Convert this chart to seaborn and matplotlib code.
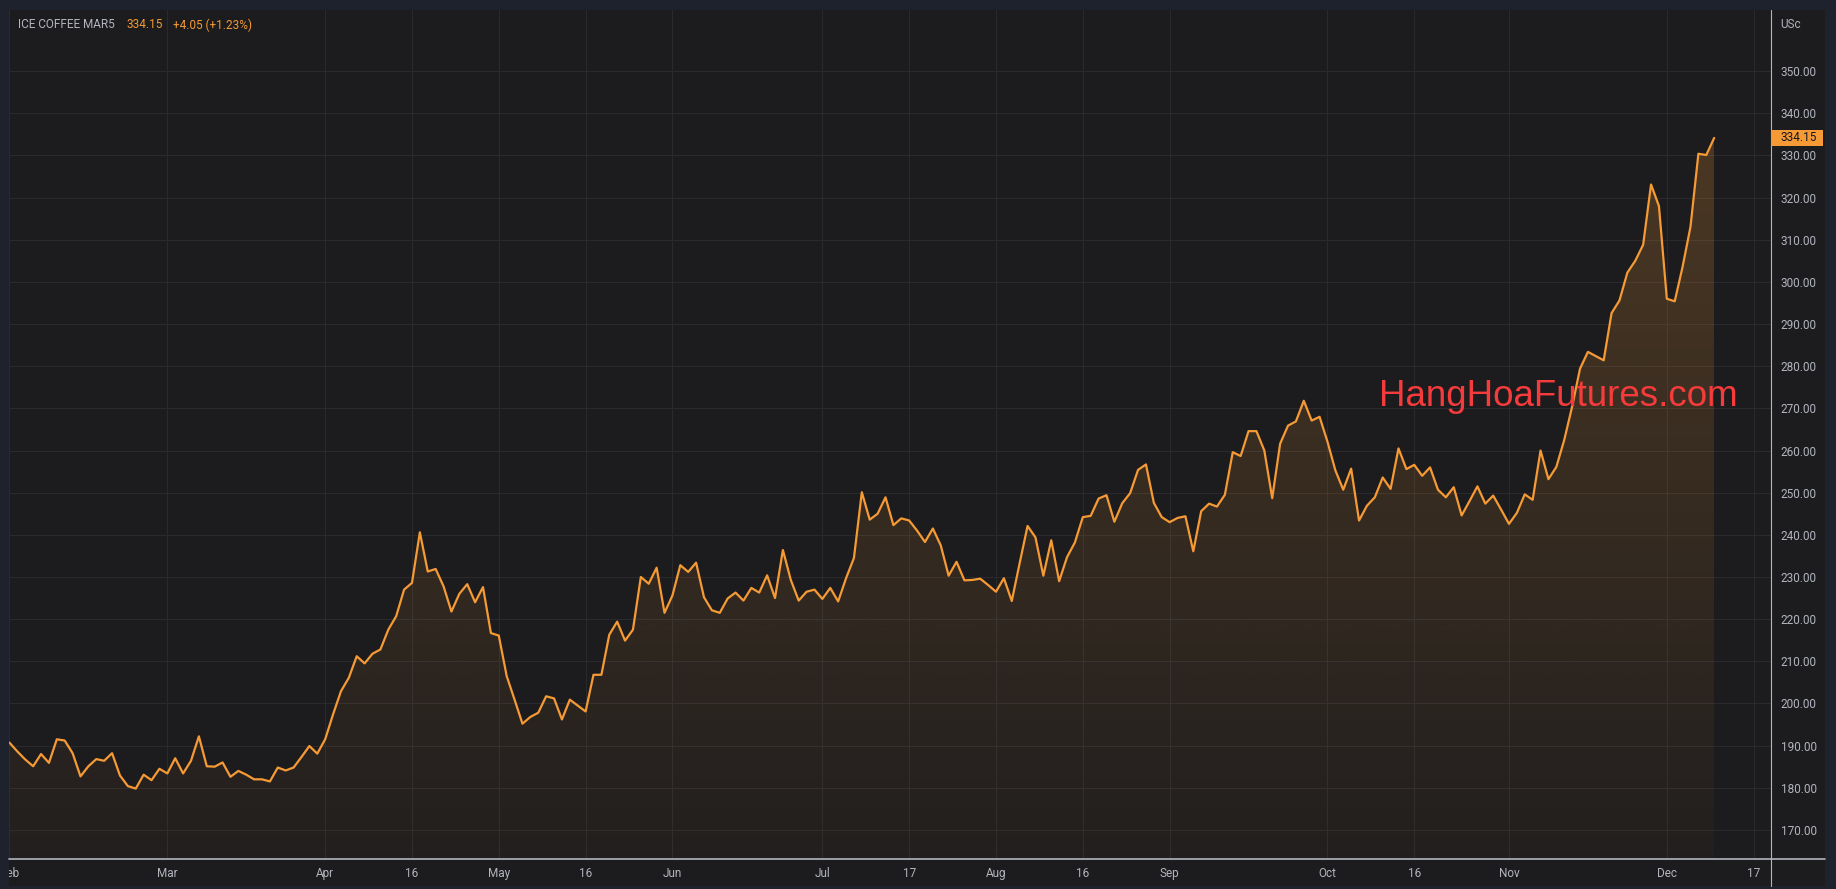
import matplotlib
matplotlib.use('Agg')
import matplotlib.pyplot as plt
import matplotlib.transforms as mtransforms
from matplotlib.patches import Rectangle
from matplotlib.lines import Line2D
from matplotlib.colors import to_rgb
from matplotlib.ticker import FormatStrFormatter
import seaborn as sns
import numpy as np
import pandas as pd

# ICE Coffee MAR5 (US cents/lb), one value per trading session, 2024
feb = [190.7, 188.6, 186.7, 185.1, 188.0, 185.9, 191.5, 191.2, 188.2, 182.7,
       185.1, 186.8, 186.4, 188.2, 182.9, 180.4, 179.8, 183.1, 181.8, 184.5]
mar = [183.4, 187.0, 183.4, 186.4, 192.2, 185.1, 185.0, 186.0, 182.6, 184.0,
       183.1, 182.0, 182.0, 181.5, 184.8, 184.1, 184.8, 187.3, 189.9, 188.1]
apr = [191.5, 197.4, 202.9, 206.1, 211.2, 209.5, 211.8, 212.8, 217.5, 220.7,
       227.0, 228.6, 240.6, 231.3, 231.9, 227.8, 221.8, 226.0, 228.3, 224.0,
       227.6, 216.7]
may = [216.1, 206.5, 200.9, 195.2, 196.8, 197.8, 201.7, 201.2, 196.2, 200.9,
       199.5, 198.1, 206.8, 206.8, 216.3, 219.4, 214.9, 217.5, 230.0, 228.4,
       232.2, 221.5]
jun = [225.6, 232.8, 231.2, 233.4, 225.2, 222.1, 221.5, 224.9, 226.3, 224.4,
       227.4, 226.3, 230.4, 225.0, 236.4, 229.3, 224.4, 226.5, 227.0]
jul = [224.8, 227.4, 224.2, 229.7, 234.5, 250.1, 243.6, 245.0, 248.9, 242.3,
       243.9, 243.4, 241.0, 238.3, 241.5, 237.5, 230.3, 233.6, 229.2, 229.3,
       229.6, 228.1]
aug = [226.5, 229.7, 224.3, 233.3, 242.1, 239.4, 230.3, 238.7, 229.0, 234.7,
       238.2, 244.2, 244.5, 248.6, 249.4, 243.1, 247.5, 249.9, 255.4, 256.7,
       247.6, 244.2]
sep = [243.0, 244.0, 244.4, 236.1, 245.6, 247.4, 246.7, 249.5, 259.6, 258.7,
       264.6, 264.6, 260.0, 248.7, 261.6, 265.9, 266.9, 271.8, 267.1, 268.0]
oct_ = [262.1, 255.3, 250.7, 255.7, 243.4, 246.9, 248.9, 253.6, 250.9, 260.5,
        255.6, 256.6, 254.0, 256.0, 250.7, 248.9, 251.3, 244.6, 248.0, 251.5,
        247.4, 249.3, 246.0]
nov = [242.6, 245.2, 249.6, 248.3, 260.0, 253.2, 256.1, 262.5, 270.4, 279.4,
       283.4, 282.4, 281.4, 292.6, 295.6, 302.2, 305.0, 308.8, 323.1, 318.0]
dec = [296.0, 295.4, 303.6, 313.1, 330.4, 330.10, 334.15]

holidays = ['2024-02-19', '2024-03-29', '2024-05-27', '2024-06-19',
            '2024-07-04', '2024-09-02', '2024-11-28', '2024-12-25']
tick_dates = ['2024-02-01', '2024-03-01', '2024-04-01', '2024-04-16',
              '2024-05-01', '2024-05-16', '2024-06-01', '2024-07-01',
              '2024-07-17', '2024-08-01', '2024-08-16', '2024-09-01',
              '2024-10-01', '2024-10-16', '2024-11-01', '2024-12-01',
              '2024-12-17']
tick_labels = ['Feb', 'Mar', 'Apr', '16', 'May', '16', 'Jun', 'Jul', '17',
               'Aug', '16', 'Sep', 'Oct', '16', 'Nov', 'Dec', '17']
price_ticks = list(range(170, 351, 10))

prices = feb + mar + apr + may + jun + jul + aug + sep + oct_ + nov + dec
sessions = pd.bdate_range('2024-02-01', '2024-12-31', freq='C', holidays=holidays)
df = pd.DataFrame({'pos': np.arange(len(prices)), 'price': prices,
                   'date': sessions[:len(prices)]})
tick_pos = sessions.searchsorted(pd.to_datetime(tick_dates))
last = prices[-1]

sns.set_theme(style='dark')
plt.rcParams['font.family'] = ['Roboto', 'DejaVu Sans']

W, H = 1836, 889
BG = '#1c1c1e'
FRAME = '#1e222d'
ORANGE = '#f59a35'
TXT = '#b2b5be'
GRID = '#2a2a2e'


def fx(p):
    return p / W


def fy(p):
    return 1 - p / H


fig = plt.figure(figsize=(W / 100, H / 100), dpi=100, facecolor=FRAME)
fig.add_artist(Rectangle((fx(9), fy(886)), fx(1825) - fx(9), fy(10) - fy(886),
                         transform=fig.transFigure, facecolor=BG,
                         edgecolor='none', zorder=-5))

ax = fig.add_axes([fx(9), fy(859), fx(1771) - fx(9), fy(10) - fy(859)])
ax.set_facecolor(BG)

sns.lineplot(data=df, x='pos', y='price', color=ORANGE, lw=1.6, ax=ax, zorder=3)

floor = 163.1
poly = ax.fill_between(df['pos'], df['price'], floor, facecolor='none',
                       edgecolor='none')
grad = np.zeros((256, 1, 4))
grad[..., :3] = to_rgb(ORANGE)
grad[:, 0, 3] = np.linspace(0.03, 0.22, 256)
img = ax.imshow(grad, extent=[0, len(prices) - 1, floor, max(prices)],
                origin='lower', aspect='auto', zorder=2)
img.set_clip_path(poly.get_paths()[0], ax.transData)

ax.set_xlim(-0.06, 223.2)
ax.set_ylim(floor, 364.5)

ax.set_xticks(tick_pos)
ax.set_xticklabels(tick_labels)
ax.yaxis.tick_right()
ax.set_yticks(price_ticks)
ax.yaxis.set_major_formatter(FormatStrFormatter('%.2f'))
ax.tick_params(axis='x', length=0, pad=5.5, colors=TXT, labelsize=8.5)
ax.tick_params(axis='y', length=0, pad=7, colors=TXT, labelsize=8.5)
ax.grid(True, color=GRID, lw=0.8)
ax.set_axisbelow(True)
ax.set_xlabel('')
ax.set_ylabel('')
for s in ax.spines.values():
    s.set_visible(False)

clip = mtransforms.TransformedBbox(
    mtransforms.Bbox.from_extents(fx(9), 0, fx(1771), 1), fig.transFigure)
for lbl in ax.get_xticklabels():
    lbl.set_clip_box(clip)
    lbl.set_clip_on(True)

# axis separators
fig.add_artist(Line2D([fx(1771), fx(1771)], [fy(10), fy(886)],
                      transform=fig.transFigure, color=TXT, lw=0.8))
fig.add_artist(Line2D([fx(9), fx(1825)], [fy(859), fy(859)],
                      transform=fig.transFigure, color=TXT, lw=1.2))

# last price tag
blend = mtransforms.blended_transform_factory(fig.transFigure, ax.transData)
fig.add_artist(Rectangle((fx(1771), last - 1.98), fx(1823) - fx(1771), 3.96,
                         transform=blend, facecolor=ORANGE, edgecolor='none',
                         zorder=4))
fig.text(fx(1780.7), last, f'{last:.2f}', transform=blend, va='center',
         ha='left', color='#131722', fontsize=8.5, zorder=5)
fig.text(fx(1780.7), fy(24), 'USc', va='center', ha='left', color=TXT,
         fontsize=8.5)

# header
fig.text(fx(18), fy(25), 'ICE COFFEE MAR5', va='center', color=TXT, fontsize=8.5)
fig.text(fx(126.7), fy(25), f'{last:.2f}', va='center', color=ORANGE, fontsize=8.5)
fig.text(fx(172.7), fy(25), '+4.05 (+1.23%)', va='center', color=ORANGE,
         fontsize=8.5)

# watermark
fig.text(fx(1379), fy(405.7), 'HangHoaFutures.com', va='baseline', ha='left',
         color='#f53b3b', fontsize=26.5, family=['Liberation Sans', 'DejaVu Sans'],
         zorder=6)

fig.savefig('out.png', dpi=100, facecolor=FRAME)
